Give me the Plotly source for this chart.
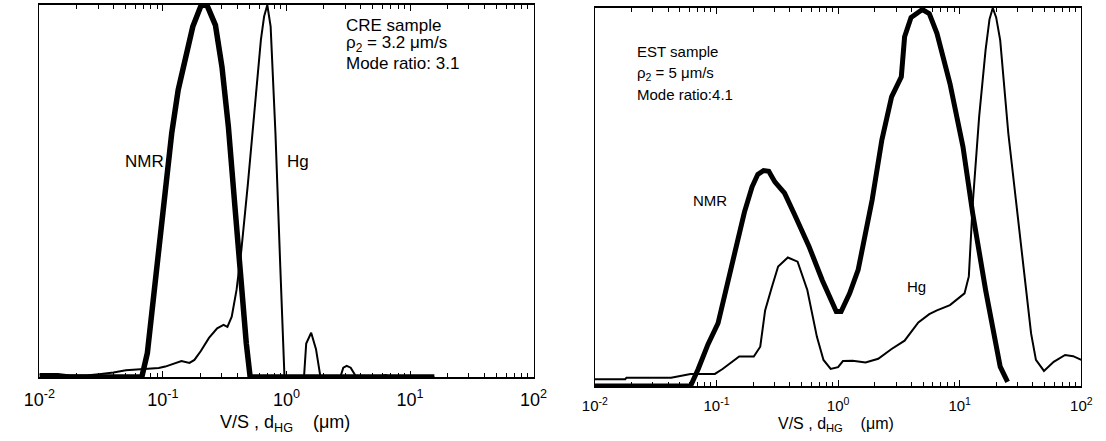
import plotly.graph_objects as go

# ---- CRE sample (left panel): pore-size distributions, normalised to peak ----
cre_nmr_x = [0.01, 0.0675, 0.0748, 0.0871, 0.1014, 0.1178, 0.133, 0.150, 0.1746,
             0.2028, 0.2153, 0.2291, 0.2661, 0.3006, 0.3388, 0.3828, 0.4315,
             0.4732, 0.5082, 15.74]
cre_nmr_y = [0, 0, 0.064, 0.252, 0.458, 0.655, 0.772, 0.852, 0.942,
             0.997, 1.0, 0.997, 0.946, 0.834, 0.673, 0.458, 0.243,
             0.09, 0, 0]

cre_hg_x = [0.01, 0.01413, 0.01778, 0.02399, 0.03162, 0.03981, 0.05012, 0.0631,
            0.07943, 0.0925, 0.1045, 0.1175, 0.1318, 0.1413, 0.1641, 0.1799,
            0.2028, 0.236, 0.2748, 0.3097, 0.3327, 0.3606, 0.3945, 0.4315,
            0.4875, 0.5495, 0.6209, 0.6592, 0.6998, 0.7447, 0.8147, 0.8913,
            0.9638, 1.387, 1.445, 1.585, 1.734, 1.884, 2.729, 2.884, 3.076,
            3.311, 3.673, 5.623, 6.31, 7.079, 15.74]
cre_hg_y = [0.008, 0.008, 0.004, 0.004, 0.008, 0.012, 0.018, 0.02,
            0.022, 0.024, 0.028, 0.034, 0.041, 0.043, 0.038, 0.046,
            0.07, 0.105, 0.131, 0.14, 0.135, 0.162, 0.234, 0.341,
            0.52, 0.718, 0.906, 0.969, 1.0, 0.942, 0.655, 0.296,
            0, 0, 0.09, 0.119, 0.075, 0, 0, 0.025, 0.03,
            0.025, 0, 0, 0.005, 0, 0]

# ---- EST sample (right panel) ----
est_nmr_x = [0.01, 0.06124, 0.07079, 0.08511, 0.103, 0.1175, 0.1445, 0.1698,
             0.1963, 0.2188, 0.2438, 0.2692, 0.302, 0.3631, 0.4365, 0.5754,
             0.7413, 0.871, 0.9661, 1.059, 1.245, 1.462, 1.905, 2.291, 2.754,
             3.311, 3.524, 3.981, 4.932, 5.623, 6.501, 8.318, 10.64, 12.79,
             16.33, 21.53, 24.77]
est_nmr_y = [0, 0, 0.045, 0.11, 0.166, 0.24, 0.36, 0.46,
             0.527, 0.56, 0.57, 0.568, 0.54, 0.51, 0.455, 0.37,
             0.28, 0.228, 0.197, 0.197, 0.245, 0.307, 0.492, 0.651, 0.765,
             0.818, 0.924, 0.975, 0.996, 0.985, 0.933, 0.8, 0.633, 0.457,
             0.254, 0.051, 0.011]

est_hg_x = [0.01, 0.01778, 0.0182, 0.04236, 0.06124, 0.09705, 0.1122, 0.1361,
            0.1538, 0.1849, 0.2028, 0.2291, 0.2512, 0.2844, 0.3214, 0.3864,
            0.4645, 0.5585, 0.6699, 0.7586, 0.869, 1.0, 1.096, 1.318, 1.683,
            2.138, 2.754, 3.524, 4.571, 5.623, 6.501, 8.318, 10.96, 11.89,
            12.79, 14.45, 16.33, 17.58, 18.71, 19.95, 21.53, 25.12, 32.14,
            38.64, 42.36, 49.32, 59.29, 73.62, 85.7, 100.0]
est_hg_y = [0.018, 0.018, 0.022, 0.022, 0.032, 0.032, 0.045, 0.064,
            0.078, 0.078, 0.078, 0.104, 0.2, 0.26, 0.316, 0.34,
            0.329, 0.254, 0.13, 0.069, 0.045, 0.05, 0.066, 0.067, 0.062,
            0.072, 0.098, 0.12, 0.168, 0.19, 0.2, 0.214, 0.245, 0.29,
            0.48, 0.712, 0.889, 0.97, 1.0, 0.975, 0.915, 0.668, 0.36,
            0.139, 0.069, 0.04, 0.064, 0.082, 0.079, 0.069]

tick_vals = [0.01, 0.1, 1, 10, 100]
tick_text = ["10<sup>-2</sup>", "10<sup>-1</sup>", "10<sup>0</sup>",
             "10<sup>1</sup>", "10<sup>2</sup>"]
# minor ticks at 2..9 within each decade
minor_vals = [d * k for d in (0.01, 0.1, 1, 10) for k in range(2, 10)]

FONT = "Liberation Sans, Arial, sans-serif"

fig = go.Figure()
fig.add_trace(go.Scatter(x=cre_nmr_x, y=cre_nmr_y, mode="lines",
                         line=dict(color="black", width=5.5), xaxis="x", yaxis="y"))
fig.add_trace(go.Scatter(x=cre_hg_x, y=cre_hg_y, mode="lines",
                         line=dict(color="black", width=2), xaxis="x", yaxis="y"))
fig.add_trace(go.Scatter(x=est_nmr_x, y=est_nmr_y, mode="lines",
                         line=dict(color="black", width=5), xaxis="x2", yaxis="y2"))
fig.add_trace(go.Scatter(x=est_hg_x, y=est_hg_y, mode="lines",
                         line=dict(color="black", width=2), xaxis="x2", yaxis="y2"))


def xaxis_style(domain, anchor, size):
    return dict(domain=domain, anchor=anchor, type="log", range=[-2, 2],
                tickmode="array", tickvals=tick_vals, ticktext=tick_text,
                ticks="inside", ticklen=6, tickwidth=1, tickcolor="black",
                ticklabelstandoff=5,
                minor=dict(tickmode="array", tickvals=minor_vals, ticks="inside",
                           ticklen=4, tickwidth=1, tickcolor="black", showgrid=False),
                showline=True, linewidth=2, linecolor="black", mirror="allticks",
                showgrid=False, zeroline=False,
                tickfont=dict(family=FONT, size=size, color="black"))


def yaxis_style(domain, anchor):
    return dict(domain=domain, anchor=anchor, range=[0, 1], showticklabels=False,
                ticks="", showline=True, linewidth=1.2, linecolor="black",
                mirror=True, showgrid=False, zeroline=False)


W, H = 1106, 441
fig.update_layout(
    width=W, height=H, margin=dict(l=0, r=0, t=0, b=0),
    paper_bgcolor="white", plot_bgcolor="white", showlegend=False,
    xaxis=xaxis_style([24 / W, 532 / W], "y", 18),
    yaxis=yaxis_style([1 - 377 / H, 1 - 5 / H], "x"),
    xaxis2=xaxis_style([595 / W, 1095 / W], "y2", 15),
    yaxis2=yaxis_style([1 - 386 / H, 1 - 8 / H], "x2"),
)

NB = "\u00a0"
ann = []


def txt(text, x, y, xref, yref, size, xanchor="center"):
    ann.append(dict(text=text, x=x, y=y, xref=xref, yref=yref, showarrow=False,
                    xanchor=xanchor, yanchor="middle",
                    font=dict(family=FONT, size=size, color="black")))


# axis titles
title = "V/S , d<sub>HG</sub>" + NB * 4 + "(μm)"
txt(title, 277 / W, 1 - 423 / H, "paper", "paper", 18)
txt(title, 843 / W, 1 - 424 / H, "paper", "paper", 16)

# curve labels (x in log10 units on log axes)
txt("NMR", -1.150, 0.579, "x", "y", 17)
txt("Hg", 0.094, 0.579, "x", "y", 17)
txt("NMR", -1.054, 0.492, "x2", "y2", 15)
txt("Hg", 0.646, 0.263, "x2", "y2", 15)

# sample descriptions
txt("CRE sample", 0.465, 0.946, "x", "y", 17, "left")
txt("ρ<sub>2</sub> = 3.2 μm/s", 0.465, 0.895, "x", "y", 17, "left")
txt("Mode ratio: 3.1", 0.465, 0.843, "x", "y", 17, "left")
txt("EST sample", -1.672, 0.885, "x2", "y2", 15, "left")
txt("ρ<sub>2</sub> = 5 μm/s", -1.672, 0.826, "x2", "y2", 15, "left")
txt("Mode ratio:4.1", -1.672, 0.770, "x2", "y2", 15, "left")

fig.update_layout(annotations=ann)
fig.write_html("out.html")
